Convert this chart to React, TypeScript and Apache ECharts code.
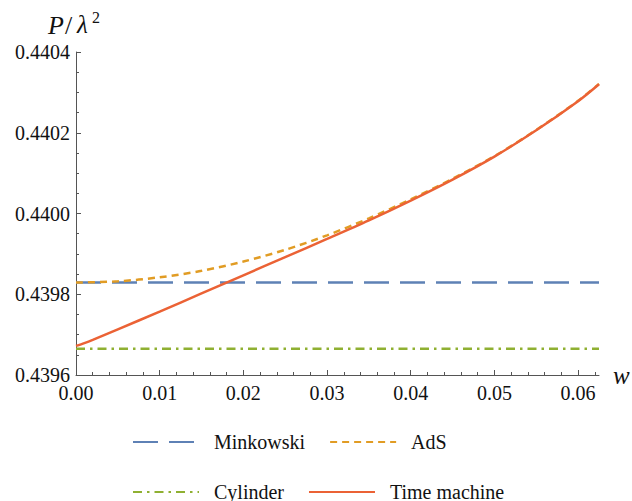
import React, { useEffect, useRef } from "react";
import * as echarts from "echarts";

// ---- data ----
const wTime = [0, 0.001, 0.002, 0.005, 0.01, 0.015, 0.02, 0.025, 0.03, 0.035, 0.04, 0.045, 0.05, 0.055, 0.06, 0.0625];
const timeMachine = [0.439672, 0.439679, 0.439687, 0.439713, 0.439757, 0.439802, 0.439847, 0.439892, 0.439937, 0.439983, 0.440032, 0.440084, 0.440141, 0.440206, 0.440278, 0.440320];

const wAdS = [0, 0.005, 0.01, 0.015, 0.02, 0.025, 0.03, 0.035, 0.04, 0.045, 0.05, 0.055, 0.06, 0.0625];
const adsValues = [0.439829, 0.439832, 0.439842, 0.439858, 0.439881, 0.439910, 0.439946, 0.439988, 0.440035, 0.440086, 0.440142, 0.440207, 0.440279, 0.440321];

const wFlat = [0, 0.0625];
const minkowskiValues = [0.439829, 0.439829];
const cylinderValues = [0.439665, 0.439665];

const seriesNames = ["Minkowski", "AdS", "Cylinder", "Time machine"];
const xMajorTicks = [0, 0.01, 0.02, 0.03, 0.04, 0.05, 0.06];
const yTicks = [0.4396, 0.4398, 0.44, 0.4402, 0.4404];

const COLORS = ["#5E81B5", "#E19C24", "#8FB032", "#EB6235"];
const FONT = "Liberation Serif";
const AXIS_COLOR = "#555";
const TEXT_COLOR = "#111";

const pairs = (xs: number[], ys: number[]) => xs.map((x, i) => [x, ys[i]]);

export default function App() {
  const ref = useRef<HTMLDivElement>(null);
  useEffect(() => {
    if (!ref.current) return;
    document.body.style.margin = "0";
    const chart = echarts.init(ref.current, undefined, { renderer: "svg" });
    const xMinorTicks: number[] = [];
    for (let i = 0; i <= 31; i++) xMinorTicks.push(Math.round(i * 2) / 1000);

    const legendBase = {
      left: 132,
      padding: 0,
      itemWidth: 66,
      itemHeight: 20,
      itemGap: 24,
      itemStyle: { opacity: 0 },
      textStyle: { fontFamily: FONT, fontSize: 20, color: TEXT_COLOR, padding: [0, 0, 0, 10] },
    };

    const option: any = {
      animation: false,
      backgroundColor: "#fff",
      textStyle: { fontFamily: FONT },
      grid: { left: 76, right: 33, top: 52, bottom: 126, containLabel: false },
      xAxis: [
        {
          type: "value",
          min: 0,
          max: 0.0625,
          interval: 0.01,
          position: "bottom",
          axisLine: { show: true, lineStyle: { color: AXIS_COLOR, width: 1 } },
          axisTick: { show: true, inside: true, length: 5, customValues: xMajorTicks, lineStyle: { color: AXIS_COLOR } },
          minorTick: { show: false },
          splitLine: { show: false },
          axisLabel: {
            customValues: xMajorTicks,
            formatter: (v: number) => v.toFixed(2),
            fontFamily: FONT,
            fontSize: 20,
            color: TEXT_COLOR,
            margin: 8,
          },
        },
        {
          type: "value",
          min: 0,
          max: 0.0625,
          position: "bottom",
          offset: 0,
          axisLine: { show: false },
          axisTick: { show: true, inside: true, length: 3, customValues: xMinorTicks, lineStyle: { color: AXIS_COLOR } },
          axisLabel: { show: false },
          splitLine: { show: false },
        },
      ],
      yAxis: {
        type: "value",
        min: yTicks[0],
        max: yTicks[yTicks.length - 1],
        interval: 0.0002,
        axisLine: { show: true, lineStyle: { color: AXIS_COLOR, width: 1 } },
        axisTick: { show: true, inside: true, length: 5, lineStyle: { color: AXIS_COLOR } },
        minorTick: { show: true, splitNumber: 4, length: 3, lineStyle: { color: AXIS_COLOR } },
        splitLine: { show: false },
        minorSplitLine: { show: false },
        axisLabel: {
          formatter: (v: number) => v.toFixed(4),
          fontFamily: FONT,
          fontSize: 20,
          color: TEXT_COLOR,
          margin: 6,
        },
      },
      legend: [
        { ...legendBase, data: [seriesNames[0], seriesNames[1]], top: 432 },
        { ...legendBase, data: [seriesNames[2], seriesNames[3]], top: 482 },
      ],
      graphic: [
        { type: "text", left: 48, top: 12, style: { text: "P", fontFamily: FONT, fontStyle: "italic", fontSize: 26, fill: TEXT_COLOR } },
        { type: "text", left: 65, top: 12, style: { text: "/", fontFamily: FONT, fontSize: 26, fill: TEXT_COLOR } },
        { type: "text", left: 77, top: 12, style: { text: "λ", fontFamily: FONT, fontStyle: "italic", fontSize: 25, fill: TEXT_COLOR } },
        { type: "text", left: 92, top: 9, style: { text: "2", fontFamily: FONT, fontSize: 16, fill: TEXT_COLOR } },
        { type: "text", left: 613, top: 363, style: { text: "w", fontFamily: FONT, fontStyle: "italic", fontSize: 25, fill: TEXT_COLOR } },
      ],
      series: [
        {
          name: seriesNames[0],
          type: "line",
          symbol: "none",
          data: pairs(wFlat, minkowskiValues),
          lineStyle: { color: COLORS[0], width: 2.5, type: [25, 11] },
          itemStyle: { color: COLORS[0] },
        },
        {
          name: seriesNames[1],
          type: "line",
          symbol: "none",
          smooth: 0.3,
          data: pairs(wAdS, adsValues),
          lineStyle: { color: COLORS[1], width: 2.5, type: [7, 5] },
          itemStyle: { color: COLORS[1] },
        },
        {
          name: seriesNames[2],
          type: "line",
          symbol: "none",
          data: pairs(wFlat, cylinderValues),
          lineStyle: { color: COLORS[2], width: 2.5, type: [9, 5, 2.5, 5] },
          itemStyle: { color: COLORS[2] },
        },
        {
          name: seriesNames[3],
          type: "line",
          symbol: "none",
          smooth: 0.3,
          data: pairs(wTime, timeMachine),
          lineStyle: { color: COLORS[3], width: 2.5, type: "solid" },
          itemStyle: { color: COLORS[3] },
        },
      ],
    };
    chart.setOption(option);
    return () => chart.dispose();
  }, []);
  return <div ref={ref} style={{ position: "fixed", left: 0, top: 0, width: 632, height: 501 }} />;
}
